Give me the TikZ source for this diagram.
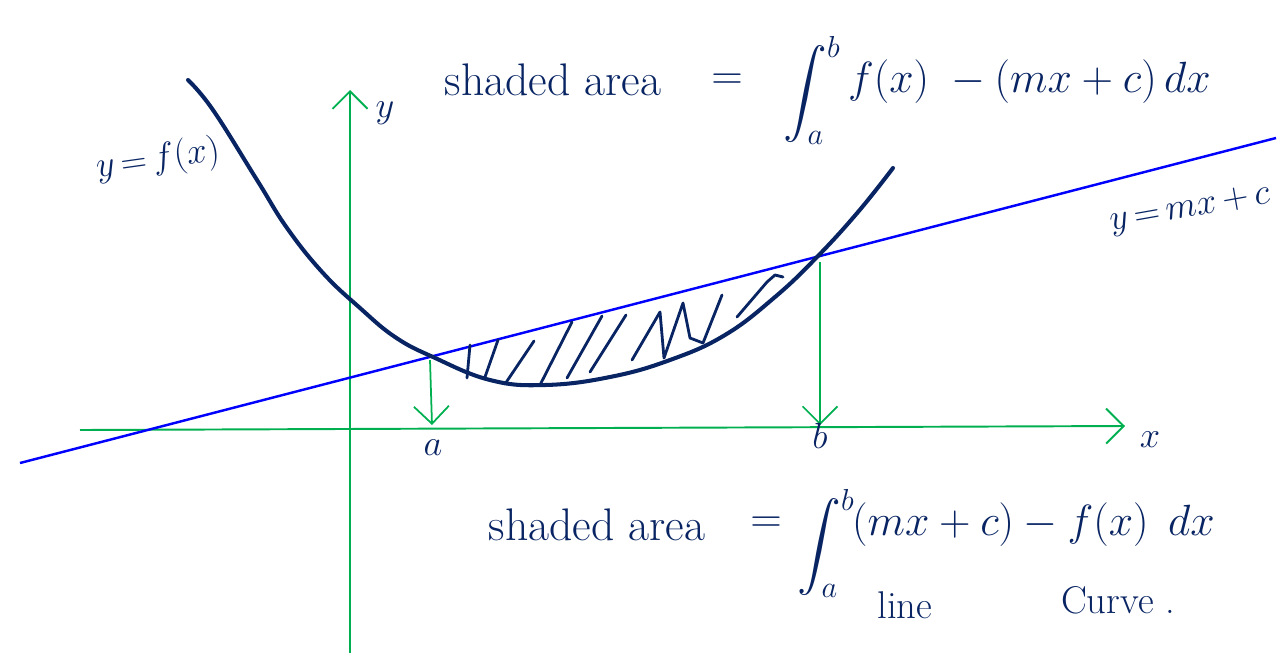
\documentclass[tikz,border=0pt]{standalone}
\usepackage{amsmath}
\usetikzlibrary{arrows.meta}
\definecolor{ink}{RGB}{8,36,99}
\definecolor{axisgreen}{RGB}{0,176,80}

\begin{document}
\begin{tikzpicture}[x=0.02cm, y=-0.02cm,
  >={Straight Barb[length=3.5mm,width=7mm]},
  axis/.style={->, draw=axisgreen, line width=1.1pt},
  drop/.style={->, draw=axisgreen, line width=1pt},
  curve/.style={draw=ink, line width=2.3pt, line cap=round, line join=round},
  tline/.style={draw=blue, line width=1.4pt},
  hatch/.style={draw=ink, line width=1.6pt, line cap=round, line join=round},
  txt/.style={text=ink, font=\fontsize{26}{28}\selectfont, inner sep=1pt},
  lbl/.style={text=ink, font=\fontsize{22}{24}\selectfont, inner sep=1pt},
]
\useasboundingbox (0,0) rectangle (1287,653);

% axes
\coordinate (xl) at (80,430);
\coordinate (xr) at (1125,426);
\coordinate (yb) at (350,653);
\coordinate (yt) at (350,90);
\draw[axis] (xl) -- (xr);
\draw[axis] (yb) -- (yt);
\node[lbl] (xlab) at (1150,440) {$x$};
\node[lbl] (ylab) at (385,113) {$y$};

% line and curve
\coordinate (ll) at (20,463);
\coordinate (lr) at (1276,138);
\draw[tline] (ll) -- (lr);
\draw[curve] plot[smooth, tension=0.7] coordinates {(188,80) (213,110) (257,180) (287,228)
  (323,273) (360,308) (395,337) (433,357) (490,380) (545,385) (610,377) (670,360) (725,335)
  (775,297) (817,257) (858,212) (893,168)};
\node[lbl, rotate=8] (flab) at (158,160) {$y\,{=}\,f(x)$};
\node[lbl, rotate=10] (llab) at (1190,210) {$y\,{=}\,mx\,{+}\,c$};

% hatching
\draw[hatch] (467,378) -- (470,345);
\draw[hatch] (485,377) -- (498,340);
\draw[hatch] (505,384) -- (534,341);
\draw[hatch] (540,385) -- (572,322);
\draw[hatch] (567,378) -- (602,316);
\draw[hatch] (590,372) -- (626,315);
\draw[hatch] (632,360) -- (660,312) -- (664,358) -- (683,303) -- (690,338) -- (703,343) -- (722,295);
\draw[hatch] (737,317) -- (767,282) -- (775,275) -- (783,277);

% limits
\coordinate (pa) at (430,360);
\coordinate (pb) at (820,262);
\coordinate (fa) at (432,425);
\coordinate (fb) at (820,425);
\draw[drop] (pa) -- (fa);
\draw[drop] (pb) -- (fb);
\node[lbl] (a) at (433,448) {$a$};
\node[lbl] (b) at (820,436) {$b$};

% formulas
\node[txt] (t1) at (553,80) {shaded area};
\node[txt] (t2) at (727,82) {$=$};
\node[txt, inner sep=0pt] (t3) at (812,90) {$\displaystyle\int_a^b$};
\node[txt, anchor=west] (t4) at (846,82) {$f(x)\;-(mx+c)\,dx$};
\node[txt] (b1) at (597,525) {shaded area};
\node[txt] (b2) at (766,525) {$=$};
\node[txt, inner sep=0pt] (b3) at (826,543) {$\displaystyle\int_a^b$};
\node[txt, anchor=west] (b4) at (850,525) {$(mx+c) - f(x)\;\,dx$};
\node[lbl] (line) at (905,605) {line};
\node[lbl] (crv) at (1118,600) {Curve .};
\end{tikzpicture}
\end{document}
